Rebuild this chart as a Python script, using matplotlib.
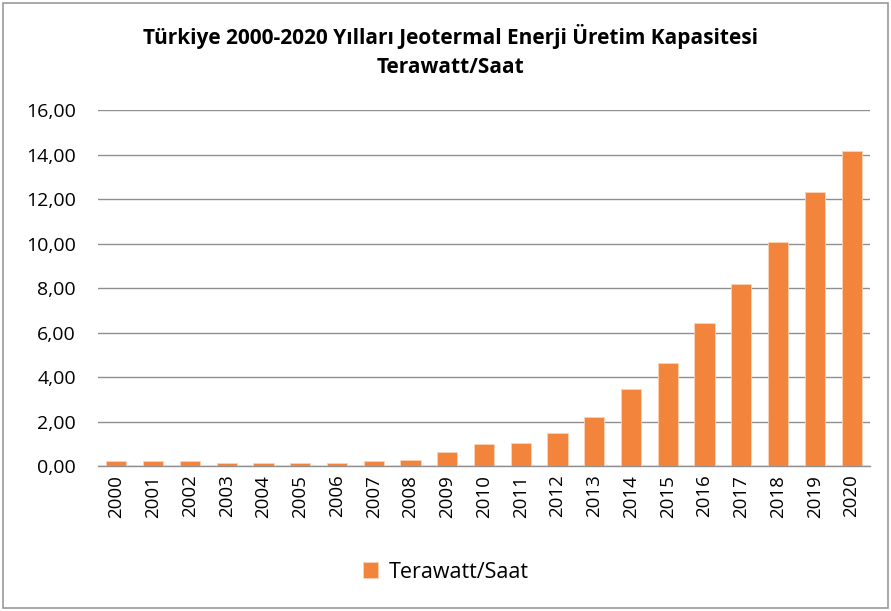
import matplotlib
matplotlib.use("Agg")
import matplotlib.pyplot as plt
from matplotlib.patches import Rectangle
from matplotlib.ticker import FuncFormatter

years = [str(y) for y in range(2000, 2021)]
capacity_twh = [0.24, 0.24, 0.24, 0.13, 0.13, 0.13, 0.13, 0.24, 0.28, 0.66,
                0.99, 1.03, 1.48, 2.21, 3.45, 4.62, 6.44, 8.19, 10.07, 12.31, 14.18]
title_text = "Türkiye 2000-2020 Yılları Jeotermal Enerji Üretim Kapasitesi\nTerawatt/Saat"
series_name = "Terawatt/Saat"

plt.rcParams['font.family'] = ['Open Sans', 'DejaVu Sans']

fig = plt.figure(figsize=(8.91, 6.11), dpi=100)
W, H = 891, 611
ax = fig.add_axes([98 / W, 1 - 466.3 / H, (870 - 98) / W, (466.3 - 110) / H])

bar_color = '#F2843B'
ax.bar(range(len(years)), capacity_twh, width=0.55, color=bar_color,
       edgecolor='#FBD3B8', linewidth=0.6, label=series_name, zorder=3)

ax.set_xlim(-0.5, len(years) - 0.5)
ax.set_ylim(0, 16)
ax.set_yticks(range(0, 17, 2))
ax.yaxis.set_major_formatter(FuncFormatter(lambda v, p: f"{v:.2f}".replace('.', ',')))
ax.set_xticks(range(len(years)))
ax.set_xticklabels(years, rotation=90)
ax.tick_params(axis='both', length=0, colors='#000000')
ax.tick_params(axis='y', pad=16, labelsize=14)
ax.tick_params(axis='x', pad=6, labelsize=13.5)

ax.grid(axis='y', color='#8f8f8f', linewidth=1.0, zorder=0)
for side in ['top', 'right', 'left']:
    ax.spines[side].set_visible(False)
ax.spines['bottom'].set_color('#8f8f8f')
ax.spines['bottom'].set_linewidth(1.0)

fig.text(450 / W, 1 - 51 / H, title_text, ha='center', va='center',
         fontsize=15, fontweight='bold', linespacing=1.45)

leg = fig.legend(loc='center', bbox_to_anchor=(0.5, 1 - 572 / H), frameon=False,
                 fontsize=15.5, handlelength=0.7, handleheight=0.7, handletextpad=0.5)

fig.patches.append(Rectangle((3 / W, 3 / H), 1 - 6 / W, 1 - 6 / H, transform=fig.transFigure,
                             fill=False, edgecolor='#9a9a9a', linewidth=1.2))

fig.savefig('out.png', dpi=100, facecolor='white')
